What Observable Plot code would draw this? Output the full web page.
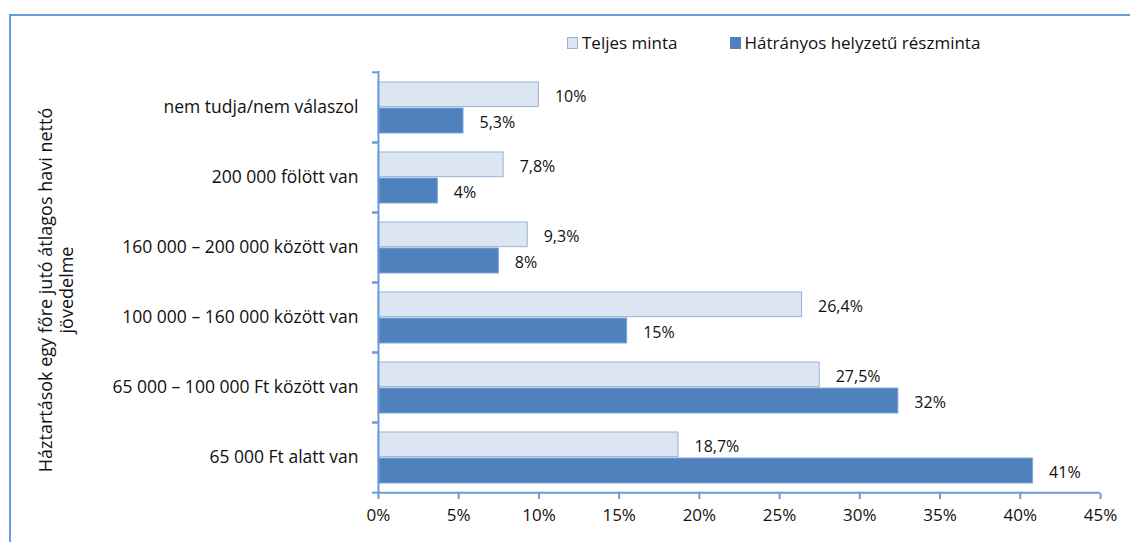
<!DOCTYPE html>
<html>
<head>
<meta charset="utf-8">
<script src="https://cdn.jsdelivr.net/npm/d3@7"></script>
<script src="https://cdn.jsdelivr.net/npm/@observablehq/plot@0.6"></script>
<style>
  body { margin: 0; background: #fff; font-family: "Open Sans", Lato, sans-serif; }
  #wrap { position: relative; width: 1130px; height: 542px; overflow: hidden; }
  #border { position: absolute; left: 9px; top: 14px; width: 1200px; height: 600px; border-left: 2px solid #6b9bd8; border-top: 2px solid #6b9bd8; box-sizing: border-box; }
  #legend { position: absolute; top: 31px; left: 567px; font-size: 17px; line-height: 24px; color: #111; display: flex; align-items: center; }
  #legend .item { display: flex; align-items: center; }
  #legend .item + .item { margin-left: 52px; }
  #legend .sw { width: 11px; height: 12px; margin-right: 4px; box-sizing: border-box; }
  #ytitle { position: absolute; left: 56px; top: 290px; transform: translate(-50%, -50%) rotate(-90deg); white-space: nowrap; text-align: center; font-size: 18px; line-height: 21px; color: #111; }
  #chart { position: absolute; left: 0; top: 0; }
</style>
</head>
<body>
<div id="wrap">
  <div id="border"></div>
  <div id="legend"></div>
  <div id="ytitle"></div>
  <div id="chart"></div>
</div>
<script>
// ---- data ----
const categories = [
  "nem tudja/nem válaszol",
  "200 000 fölött van",
  "160 000 – 200 000 között van",
  "100 000 – 160 000 között van",
  "65 000 – 100 000 Ft között van",
  "65 000 Ft alatt van"
];
const seriesNames = ["Teljes minta", "Hátrányos helyzetű részminta"];
const teljesValues = [10, 7.8, 9.3, 26.4, 27.5, 18.7];
const teljesLabels = ["10%", "7,8%", "9,3%", "26,4%", "27,5%", "18,7%"];
const hatranyosValues = [5.3, 3.7, 7.5, 15.5, 32.4, 40.8];
const hatranyosLabels = ["5,3%", "4%", "8%", "15%", "32%", "41%"];
const xTicks = [0, 5, 10, 15, 20, 25, 30, 35, 40, 45];
const xTickLabels = ["0%", "5%", "10%", "15%", "20%", "25%", "30%", "35%", "40%", "45%"];
const yTitleLines = ["Háztartások egy főre jutó átlagos havi nettó", "jövedelme"];

// ---- styles ----
const colors = { teljesFill: "#dce6f2", teljesStroke: "#95b3d7", hatrFill: "#4f81bd", hatrStroke: "#7ea6dc", axis: "#6b9bd8" };

const teljes = categories.map((c, i) => ({ cat: c, v: teljesValues[i], label: teljesLabels[i] }));
const hatr = categories.map((c, i) => ({ cat: c, v: hatranyosValues[i], label: hatranyosLabels[i] }));

const W = 1130, H = 542, mT = 71, mB = 49, mL = 378, mR = 30;
const step = (H - mT - mB) / categories.length;
const half = step / 2;

const chart = Plot.plot({
  width: W, height: H,
  marginTop: mT, marginBottom: mB, marginLeft: mL, marginRight: mR,
  style: { fontFamily: "'Open Sans', Lato, sans-serif", fontSize: "17px", color: "#111", background: "transparent" },
  x: { domain: [0, 45] },
  y: { domain: categories, padding: 0, axis: null },
  marks: [
    Plot.barX(teljes, { y: "cat", x: "v", fill: colors.teljesFill, stroke: colors.teljesStroke, strokeWidth: 1, insetTop: 10, insetBottom: step - 35 }),
    Plot.barX(hatr, { y: "cat", x: "v", fill: colors.hatrFill, stroke: colors.hatrStroke, strokeWidth: 1, insetTop: 36, insetBottom: 9 }),
    Plot.text(teljes, { y: "cat", x: "v", text: "label", textAnchor: "start", dx: 16, dy: -11, fill: "#111", fontSize: 16 }),
    Plot.text(hatr, { y: "cat", x: "v", text: "label", textAnchor: "start", dx: 16, dy: 15, fill: "#111", fontSize: 16 }),
    // category labels
    Plot.axisY({ tickSize: 0, tickPadding: 20, fontSize: 17.5, label: null }),
    // boundary tick marks (Excel style, between categories)
    Plot.axisY({ tickSize: 6, text: null, dy: -half, stroke: colors.axis, strokeWidth: 2, label: null }),
    Plot.axisY({ tickSize: 6, text: null, dy: half, stroke: colors.axis, strokeWidth: 2, label: null }),
    Plot.ruleX([0], { stroke: colors.axis, strokeWidth: 2 }),
    Plot.axisX({ ticks: xTicks, tickFormat: d => xTickLabels[xTicks.indexOf(d)], tickSize: 6, tickPadding: 9, stroke: colors.axis, strokeWidth: 2, fontSize: 17, label: null }),
    Plot.ruleY([categories[categories.length - 1]], { stroke: colors.axis, strokeWidth: 2, dy: half })
  ]
});
chart.querySelectorAll('[aria-label="x-axis tick label"] text, [aria-label="y-axis tick label"] text').forEach(t => t.setAttribute("fill", "#111"));
document.getElementById("chart").appendChild(chart);

// legend
const leg = document.getElementById("legend");
seriesNames.forEach((name, i) => {
  const item = document.createElement("div");
  item.className = "item";
  const sw = document.createElement("div");
  sw.className = "sw";
  sw.style.background = i === 0 ? colors.teljesFill : colors.hatrFill;
  sw.style.border = "1px solid " + (i === 0 ? colors.teljesStroke : colors.hatrFill);
  const tx = document.createElement("span");
  tx.textContent = name;
  item.appendChild(sw); item.appendChild(tx);
  leg.appendChild(item);
});

// y title
document.getElementById("ytitle").innerHTML = yTitleLines.join("<br>");
</script>
</body>
</html>
